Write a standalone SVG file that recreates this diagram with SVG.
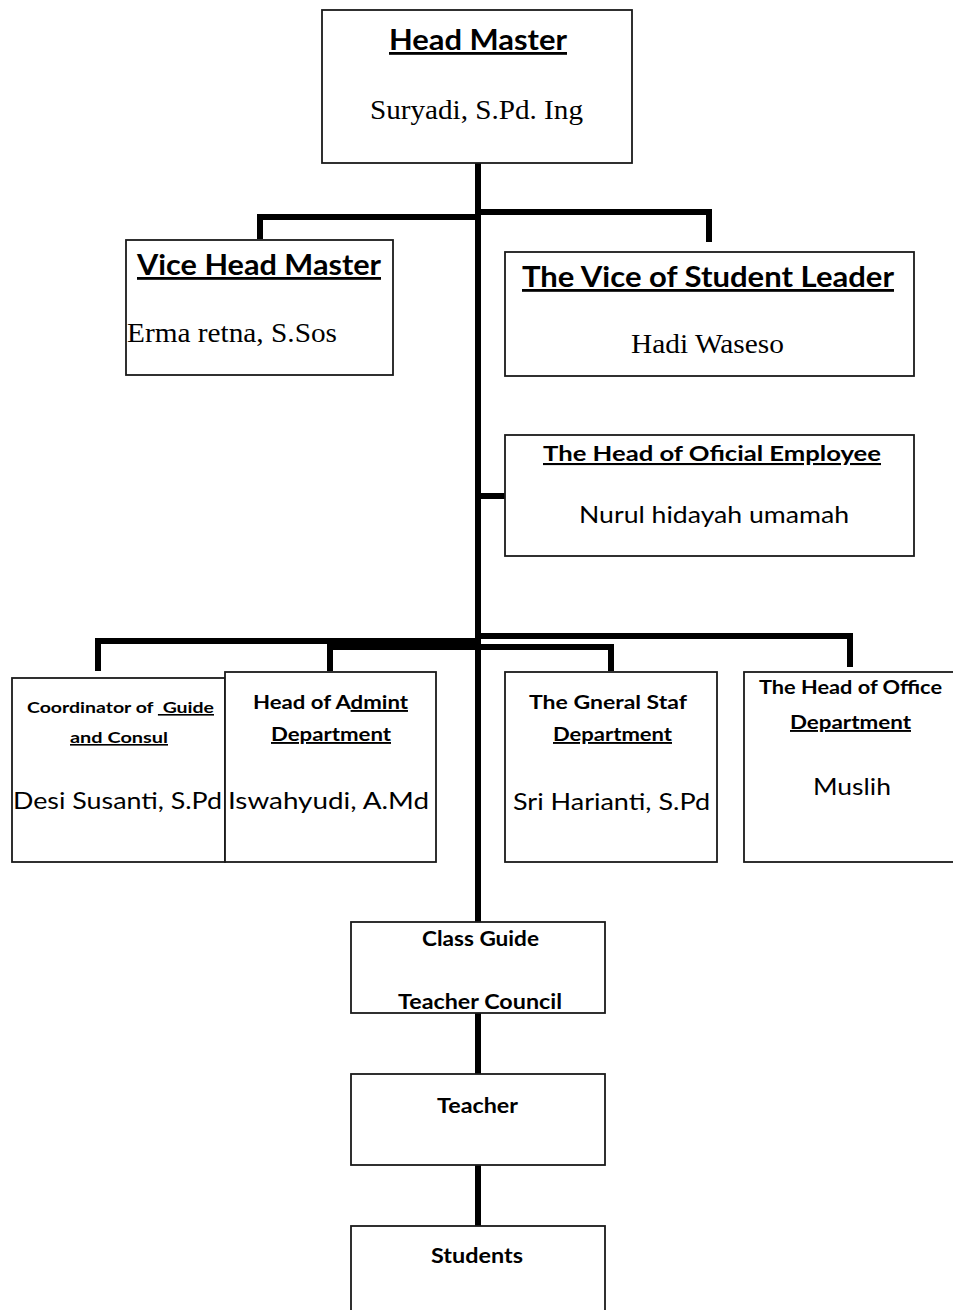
<svg xmlns="http://www.w3.org/2000/svg" width="953" height="1310" viewBox="0 0 953 1310">
<style>
.box{fill:#fff;stroke:#1a1a1a;stroke-width:1.8}
.ln{fill:none;stroke:#000;stroke-width:6;stroke-linejoin:miter;stroke-linecap:butt}
.sb{font-family:Lato,"Liberation Sans",sans-serif;font-weight:bold;fill:#000}
.sn{font-family:Lato,"Liberation Sans",sans-serif;fill:#000}
.tr{font-family:"Liberation Serif",serif;fill:#000}
.u{text-decoration:underline}
</style>
<rect width="953" height="1310" fill="#fff"/>
<g id="connectors">
<path class="ln" d="M478,157 V922"/>
<path class="ln" d="M478,1013 V1074"/>
<path class="ln" d="M478,1165 V1226"/>
<path class="ln" d="M260,239 V217 H478"/>
<path class="ln" d="M478,212 H709 V242"/>
<path class="ln" d="M478,496 H505"/>
<path class="ln" d="M98,671 V641 H478"/>
<path class="ln" d="M478,636 H850 V667"/>
<path class="ln" d="M330,671 V647 H611 V671"/>
</g>
<g id="head-master">
<rect class="box" x="322" y="10" width="310" height="153"/>
<text class="sb u" x="389" y="50" font-size="28" textLength="178" lengthAdjust="spacingAndGlyphs">Head Master</text>
<text class="tr" x="370" y="119" font-size="27" textLength="213" lengthAdjust="spacingAndGlyphs">Suryadi, S.Pd. Ing</text>
</g>
<g id="vice-head-master">
<rect class="box" x="126" y="240" width="267" height="135"/>
<text class="sb u" x="137" y="275" font-size="28" textLength="244" lengthAdjust="spacingAndGlyphs">Vice Head Master</text>
<text class="tr" x="127" y="342" font-size="27" textLength="210" lengthAdjust="spacingAndGlyphs">Erma retna, S.Sos</text>
</g>
<g id="vice-student-leader">
<rect class="box" x="505" y="252" width="409" height="124"/>
<text class="sb u" x="522" y="287" font-size="28" textLength="372" lengthAdjust="spacingAndGlyphs">The Vice of Student Leader</text>
<text class="tr" x="631" y="353" font-size="27" textLength="153" lengthAdjust="spacingAndGlyphs">Hadi Waseso</text>
</g>
<g id="head-oficial-employee">
<rect class="box" x="505" y="435" width="409" height="121"/>
<text class="sb u" x="543" y="461" font-size="21" textLength="338" lengthAdjust="spacingAndGlyphs">The Head of Oficial Employee</text>
<text class="sn" x="579" y="523" font-size="24" textLength="270" lengthAdjust="spacingAndGlyphs">Nurul hidayah umamah</text>
</g>
<g id="coordinator-guide">
<rect class="box" x="12" y="678" width="213" height="184"/>
<text class="sb" x="27" y="713" font-size="16" textLength="187" lengthAdjust="spacingAndGlyphs">Coordinator of <tspan class="u">&#160;Guide</tspan></text>
<text class="sb u" x="70" y="743" font-size="16" textLength="98" lengthAdjust="spacingAndGlyphs">and Consul</text>
<text class="sn" x="13" y="809" font-size="24" textLength="209" lengthAdjust="spacingAndGlyphs">Desi Susanti, S.Pd</text>
</g>
<g id="head-admint">
<rect class="box" x="225" y="672" width="211" height="190"/>
<text class="sb" x="253" y="709" font-size="19" textLength="155" lengthAdjust="spacingAndGlyphs">Head of A<tspan class="u">dmint</tspan></text>
<text class="sb u" x="271" y="741" font-size="19" textLength="120" lengthAdjust="spacingAndGlyphs">Department</text>
<text class="sn" x="228" y="809" font-size="24" textLength="201" lengthAdjust="spacingAndGlyphs">Iswahyudi, A.Md</text>
</g>
<g id="general-staf">
<rect class="box" x="505" y="672" width="212" height="190"/>
<text class="sb" x="529" y="709" font-size="19" textLength="158" lengthAdjust="spacingAndGlyphs">The Gneral Staf</text>
<text class="sb u" x="553" y="741" font-size="19" textLength="119" lengthAdjust="spacingAndGlyphs">Department</text>
<text class="sn" x="513" y="810" font-size="24" textLength="197" lengthAdjust="spacingAndGlyphs">Sri Harianti, S.Pd</text>
</g>
<g id="head-office">
<rect class="box" x="744" y="672" width="215" height="190"/>
<text class="sb" x="759" y="694" font-size="19" textLength="183" lengthAdjust="spacingAndGlyphs">The Head of Office</text>
<text class="sb u" x="790" y="729" font-size="19" textLength="121" lengthAdjust="spacingAndGlyphs">Department</text>
<text class="sn" x="813" y="795" font-size="24" textLength="78" lengthAdjust="spacingAndGlyphs">Muslih</text>
</g>
<g id="class-guide">
<rect class="box" x="351" y="922" width="254" height="91"/>
<text class="sb" x="422" y="946" font-size="20" textLength="117" lengthAdjust="spacingAndGlyphs">Class Guide</text>
<text class="sb" x="398" y="1009" font-size="20" textLength="164" lengthAdjust="spacingAndGlyphs">Teacher Council</text>
</g>
<g id="teacher">
<rect class="box" x="351" y="1074" width="254" height="91"/>
<text class="sb" x="437" y="1113" font-size="20" textLength="81" lengthAdjust="spacingAndGlyphs">Teacher</text>
</g>
<g id="students">
<rect class="box" x="351" y="1226" width="254" height="100"/>
<text class="sb" x="431" y="1263" font-size="20" textLength="92" lengthAdjust="spacingAndGlyphs">Students</text>
</g>
</svg>
